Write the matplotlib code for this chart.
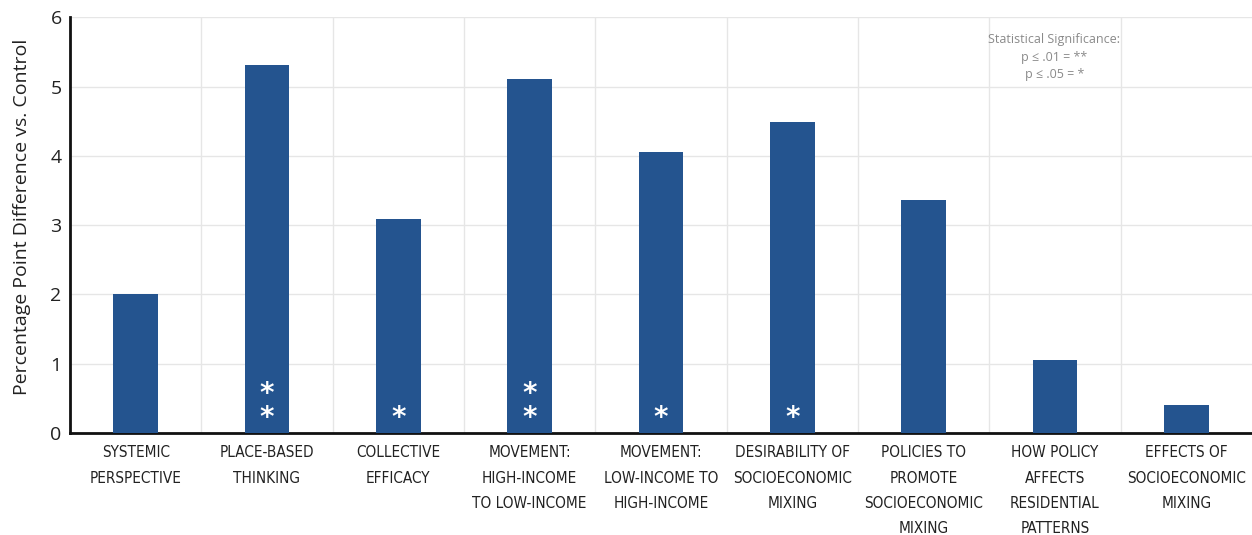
import matplotlib
matplotlib.use("Agg")
import matplotlib.pyplot as plt

categories = [
    "SYSTEMIC\nPERSPECTIVE",
    "PLACE-BASED\nTHINKING",
    "COLLECTIVE\nEFFICACY",
    "MOVEMENT:\nHIGH-INCOME\nTO LOW-INCOME",
    "MOVEMENT:\nLOW-INCOME TO\nHIGH-INCOME",
    "DESIRABILITY OF\nSOCIOECONOMIC\nMIXING",
    "POLICIES TO\nPROMOTE\nSOCIOECONOMIC\nMIXING",
    "HOW POLICY\nAFFECTS\nRESIDENTIAL\nPATTERNS",
    "EFFECTS OF\nSOCIOECONOMIC\nMIXING",
]
values = [2.0, 5.31, 3.09, 5.11, 4.05, 4.49, 3.36, 1.05, 0.41]
stars = ["", "**", "*", "**", "*", "*", "", "", ""]

BAR = "#24548f"
GRID = "#e6e6e6"

fig = plt.figure(figsize=(12.52, 5.35), dpi=100)
ax = fig.add_axes([0.0559, 0.1907, 0.944, 0.777])

x = range(len(categories))
ax.bar(x, values, width=0.34, color=BAR, zorder=3)

# significance markers stacked near the base of each bar
for i, s in enumerate(stars):
    if s:
        ax.text(i, 0.02, "\n".join(s), ha="center", va="bottom",
                color="white", fontsize=20, fontweight="bold",
                family="DejaVu Sans", linespacing=0.82, zorder=4)

ax.set_xlim(-0.5, len(categories) - 0.5)
ax.set_ylim(0, 6)
ax.set_yticks(range(0, 7))
ax.set_xticks(list(x))
ax.set_xticklabels(categories, family="DejaVu Sans", stretch="condensed",
                   fontsize=11, linespacing=1.84, color="#222222", va="top")
ax.tick_params(axis="x", length=0, pad=9)
ax.tick_params(axis="y", length=0, pad=6, labelsize=14, labelcolor="#222222")
for lab in ax.get_yticklabels():
    lab.set_family("Open Sans")

# horizontal grid at ticks, vertical grid between categories
ax.grid(axis="y", color=GRID, lw=1, zorder=0)
for b in range(1, len(categories)):
    ax.axvline(b - 0.5, color=GRID, lw=1, zorder=0)

for side in ("top", "right"):
    ax.spines[side].set_visible(False)
ax.spines["left"].set_linewidth(2)
ax.spines["bottom"].set_linewidth(2)
ax.spines["left"].set_color("#111111")
ax.spines["bottom"].set_color("#111111")

ax.set_ylabel("Percentage Point Difference vs. Control", family="Open Sans",
              fontsize=14, color="#222222")
ax.yaxis.set_label_coords(-0.033, 0.52)

ax.text(0.833, 0.962, "Statistical Significance:\np \u2264 .01 = **\np \u2264 .05 = *",
        transform=ax.transAxes, ha="center", va="top", fontsize=9,
        color="#8a8a8a", family="Open Sans", linespacing=1.45)

fig.savefig("out.png", dpi=100)
